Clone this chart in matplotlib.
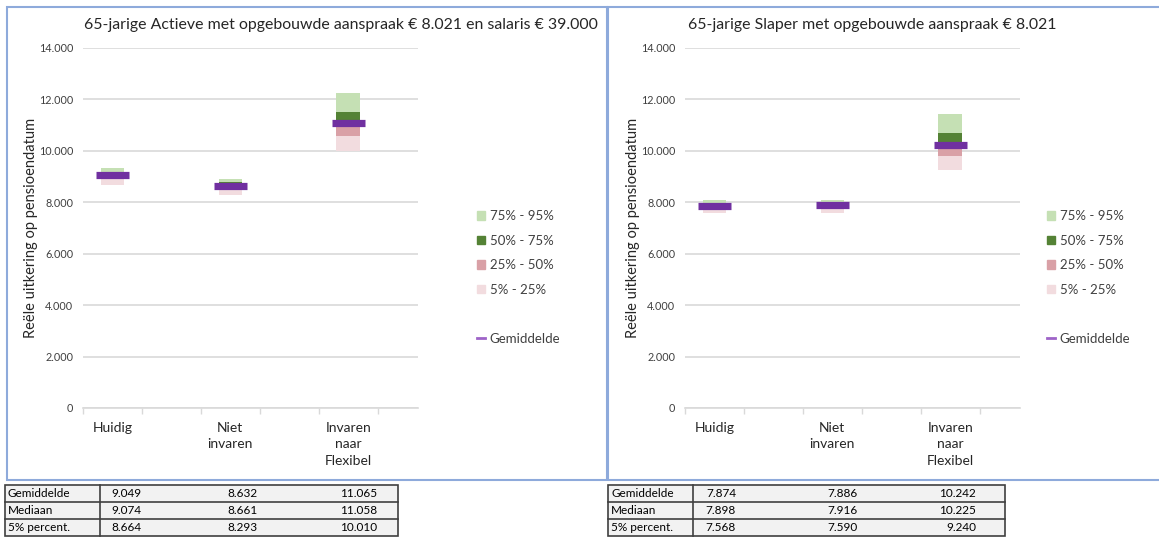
import matplotlib
matplotlib.use("Agg")
import matplotlib.pyplot as plt
from matplotlib.patches import Patch, Rectangle
from matplotlib.lines import Line2D
import numpy as np

plt.rcParams['font.family'] = ['Lato', 'DejaVu Sans']

categories = ["Huidig", "Niet\ninvaren", "Invaren\nnaar\nFlexibel"]
titles = ["65-jarige Actieve met opgebouwde aanspraak € 8.021 en salaris € 39.000",
          "65-jarige Slaper met opgebouwde aanspraak € 8.021"]
y_label = "Reële uitkering op pensioendatum"
y_ticks = [0, 2000, 4000, 6000, 8000, 10000, 12000, 14000]
y_tick_labels = ["0", "2.000", "4.000", "6.000", "8.000", "10.000", "12.000", "14.000"]
legend_labels = ["75% - 95%", "50% - 75%", "25% - 50%", "5% - 25%", "Gemiddelde"]
table_row_labels = ["Gemiddelde", "Mediaan", "5% percent."]

# Actieve
act_mean = [9049, 8632, 11065]
act_median = [9074, 8661, 11058]
act_p5 = [8664, 8293, 10010]
act_p25 = [8930, 8520, 10575]
act_p75 = [9190, 8770, 11520]
act_p95 = [9340, 8890, 12260]
act_table = ["9.049", "8.632", "11.065", "9.074", "8.661", "11.058", "8.664", "8.293", "10.010"]

# Slaper
slp_mean = [7874, 7886, 10242]
slp_median = [7898, 7916, 10225]
slp_p5 = [7568, 7590, 9240]
slp_p25 = [7760, 7780, 9810]
slp_p75 = [7990, 8000, 10680]
slp_p95 = [8080, 8080, 11417]
slp_table = ["7.874", "7.886", "10.242", "7.898", "7.916", "10.225", "7.568", "7.590", "9.240"]

c_p95 = "#c5e0b4"
c_p75 = "#548235"
c_p50 = "#d9a0a6"
c_p25 = "#f2dcdf"
c_mean = "#7030a0"
grid_c = "#d9d9d9"
txt_c = "#404040"
frame_c = "#8eaadb"

W, H = 1159, 537
fig = plt.figure(figsize=(W / 100, H / 100), dpi=100)

def fx(px):
    return px / W

def fy(py):
    return 1 - py / H

# panel frames
fig.patches.append(Rectangle((fx(7), fy(480)), fx(600), (473) / H, transform=fig.transFigure,
                             fill=False, edgecolor=frame_c, linewidth=1.5))
fig.patches.append(Rectangle((fx(608), fy(480)), fx(560), (473) / H, transform=fig.transFigure,
                             fill=False, edgecolor=frame_c, linewidth=1.5))

panels = [
    dict(x0=83, title_x=341, legx=477, data=(act_p5, act_p25, act_median, act_p75, act_p95, act_mean),
         table=act_table, tx0=5, tsep=100, tx1=398, vend=[141, 258, 377]),
    dict(x0=685, title_x=872, legx=1047, data=(slp_p5, slp_p25, slp_median, slp_p75, slp_p95, slp_mean),
         table=slp_table, tx0=608, tsep=693, tx1=1005, vend=[736, 858, 976]),
]

x = np.arange(len(categories))
bw = 0.2
for i, p in enumerate(panels):
    ax = fig.add_axes([fx(p["x0"]), fy(408), fx(335), 360 / H])
    p5, p25, p50, p75, p95, mn = p["data"]
    p5 = np.array(p5); p25 = np.array(p25); p50 = np.array(p50)
    p75 = np.array(p75); p95 = np.array(p95)
    ax.bar(x, p25 - p5, bottom=p5, width=bw, color=c_p25, zorder=2)
    ax.bar(x, p50 - p25, bottom=p25, width=bw, color=c_p50, zorder=2)
    ax.bar(x, p75 - p50, bottom=p50, width=bw, color=c_p75, zorder=2)
    ax.bar(x, p95 - p75, bottom=p75, width=bw, color=c_p95, zorder=2)
    ax.hlines(mn, x - 0.14, x + 0.14, color=c_mean, linewidth=5.2, zorder=3)
    ax.set_xlim(-0.246, 2.592)
    ax.set_ylim(0, 14000)
    ax.set_yticks(y_ticks)
    ax.set_yticklabels(y_tick_labels, fontsize=7.8, color=txt_c)
    ax.yaxis.grid(True, color=grid_c, linewidth=1.2, zorder=0)
    ax.tick_params(axis='y', length=0, pad=7)
    ax.set_xticks(x)
    ax.set_xticklabels(categories, fontsize=10, color="#262626", linespacing=1.45, va='top')
    ax.tick_params(axis='x', which='major', length=0, pad=10)
    ax.set_xticks([-0.25, 0.25, 0.75, 1.25, 1.75, 2.25], minor=True)
    ax.tick_params(axis='x', which='minor', length=4, color=grid_c, width=1)
    for s in ["top", "right", "left"]:
        ax.spines[s].set_visible(False)
    ax.spines["bottom"].set_color(grid_c)
    ax.spines["bottom"].set_linewidth(1.2)
    ax.set_axisbelow(True)
    ax.set_ylabel(y_label, fontsize=10.5, color="#262626")
    ax.yaxis.set_label_coords(-45 / 335, 0.5)
    fig.text(fx(p["title_x"]), fy(25), titles[i], ha='center', va='center', fontsize=11.4, color="#262626")

    handles = [Patch(color=c_p95), Patch(color=c_p75), Patch(color=c_p50), Patch(color=c_p25),
               Line2D([], [], color='none'), Line2D([], [], color="#9e63c8", linewidth=2)]
    labels = legend_labels[:4] + [" ", legend_labels[4]]
    leg = fig.legend(handles, labels, loc='upper left', bbox_to_anchor=(fx(p["legx"]), fy(210)),
                     frameon=False, fontsize=9.5, handlelength=0.6, handleheight=0.6,
                     handletextpad=0.35, labelspacing=0.95, borderaxespad=0, borderpad=0)
    for t in leg.get_texts():
        t.set_color(txt_c)

    # table
    tax = fig.add_axes([0, 0, 1, 1])
    tax.set_xlim(0, W)
    tax.set_ylim(H, 0)
    tax.axis('off')
    row_tops = [485, 502, 519]
    rh = 17
    tx0, tsep, tx1 = p["tx0"], p["tsep"], p["tx1"]
    tax.add_patch(Rectangle((tx0, 485), tx1 - tx0, 3 * rh, facecolor="#f2f2f2", edgecolor="#404040", linewidth=1.2))
    tax.plot([tsep, tsep], [485, 485 + 3 * rh], color="#404040", linewidth=1.2)
    for r in range(1, 3):
        tax.plot([tx0, tx1], [485 + r * rh, 485 + r * rh], color="#404040", linewidth=1.2)
    for r in range(3):
        yc = row_tops[r] + rh / 2
        tax.text(tx0 + 3, yc, table_row_labels[r], ha='left', va='center', fontsize=8.5, color="#000000")
        for c in range(3):
            tax.text(p["vend"][c], yc, p["table"][r * 3 + c], ha='right', va='center', fontsize=8.5, color="#000000")

fig.savefig("out.png", dpi=100)
